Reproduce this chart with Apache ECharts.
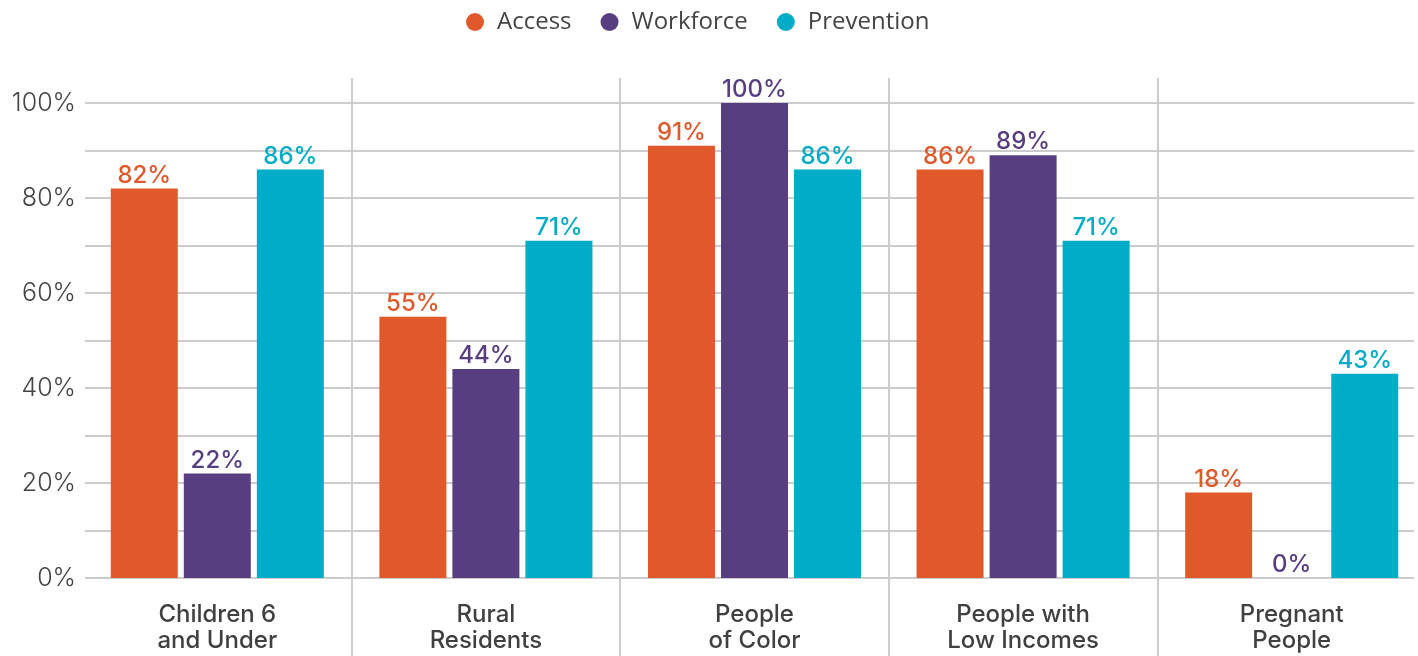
<!DOCTYPE html>
<html>
<head>
<meta charset="utf-8">
<script src="https://cdn.jsdelivr.net/npm/echarts@6/dist/echarts.min.js"></script>
<style>
html,body{margin:0;padding:0;background:#fff;overflow:hidden;}
#chart{width:1426px;height:656px;}
</style>
</head>
<body>
<div id="chart"></div>
<script>
const categories = ['Children 6\nand Under', 'Rural\nResidents', 'People\nof Color', 'People with\nLow Incomes', 'Pregnant\nPeople'];
const seriesNames = ['Access', 'Workforce', 'Prevention'];
const accessValues = [82, 55, 91, 86, 18];
const workforceValues = [22, 44, 100, 89, 0];
const preventionValues = [86, 71, 86, 71, 43];
const yTicks = [0, 20, 40, 60, 80, 100];

const colors = ['#E0592A', '#573E81', '#00ACC8'];
const valueSets = [accessValues, workforceValues, preventionValues];
const labelFont = 'Inter, "Open Sans", sans-serif';

const chart = echarts.init(document.getElementById('chart'));
const series = seriesNames.map((name, i) => ({
  name: name,
  type: 'bar',
  xAxisIndex: 0,
  yAxisIndex: 0,
  data: valueSets[i],
  barWidth: 67,
  barGap: '9%',
  itemStyle: { color: colors[i] },
  label: {
    show: true,
    position: 'top',
    distance: 1,
    formatter: p => p.value + '%',
    color: colors[i],
    fontFamily: labelFont,
    fontWeight: 500,
    fontSize: 24
  }
}));

chart.setOption({
  animation: false,
  legend: {
    data: seriesNames,
    top: 5,
    left: 461,
    icon: 'circle',
    itemWidth: 34,
    itemHeight: 18,
    itemGap: 29,
    textStyle: { fontFamily: '"Open Sans", sans-serif', fontSize: 24, color: '#444' }
  },
  grid: [
    { left: 83, right: 0, top: 103, bottom: 78 },
    { left: 83, right: 0, top: 78, bottom: 0 },
    { left: 85, right: 12, top: 103, bottom: 78 }
  ],
  xAxis: [
    {
      type: 'category',
      gridIndex: 0,
      data: categories,
      axisLine: { show: false },
      axisTick: { show: false },
      axisLabel: {
        margin: 24,
        fontFamily: labelFont,
        fontWeight: 500,
        fontSize: 24,
        lineHeight: 26,
        color: '#404040'
      }
    },
    {
      type: 'category',
      gridIndex: 1,
      data: categories,
      axisLine: { show: false },
      axisTick: { show: false },
      axisLabel: { show: false },
      splitLine: {
        show: true,
        interval: (i) => i !== 0,
        lineStyle: { color: '#cccccc', width: 2 }
      }
    },
    {
      type: 'value',
      gridIndex: 2,
      show: false,
      min: 0,
      max: 1
    }
  ],
  yAxis: [
    {
      type: 'value',
      gridIndex: 0,
      min: 0,
      max: 100,
      show: false
    },
    {
      type: 'value',
      gridIndex: 1,
      show: false
    },
    {
      type: 'value',
      gridIndex: 2,
      min: 0,
      max: 100,
      interval: 10,
      axisLine: { show: false },
      axisTick: { show: false },
      splitLine: { show: true, lineStyle: { color: '#cccccc', width: 2 } },
      axisLabel: {
        margin: 9,
        formatter: v => (yTicks.indexOf(v) >= 0 ? v + '%' : ''),
        fontFamily: labelFont,
        fontWeight: 300,
        fontSize: 25,
        color: '#444'
      }
    }
  ],
  series: series
});
</script>
</body>
</html>
